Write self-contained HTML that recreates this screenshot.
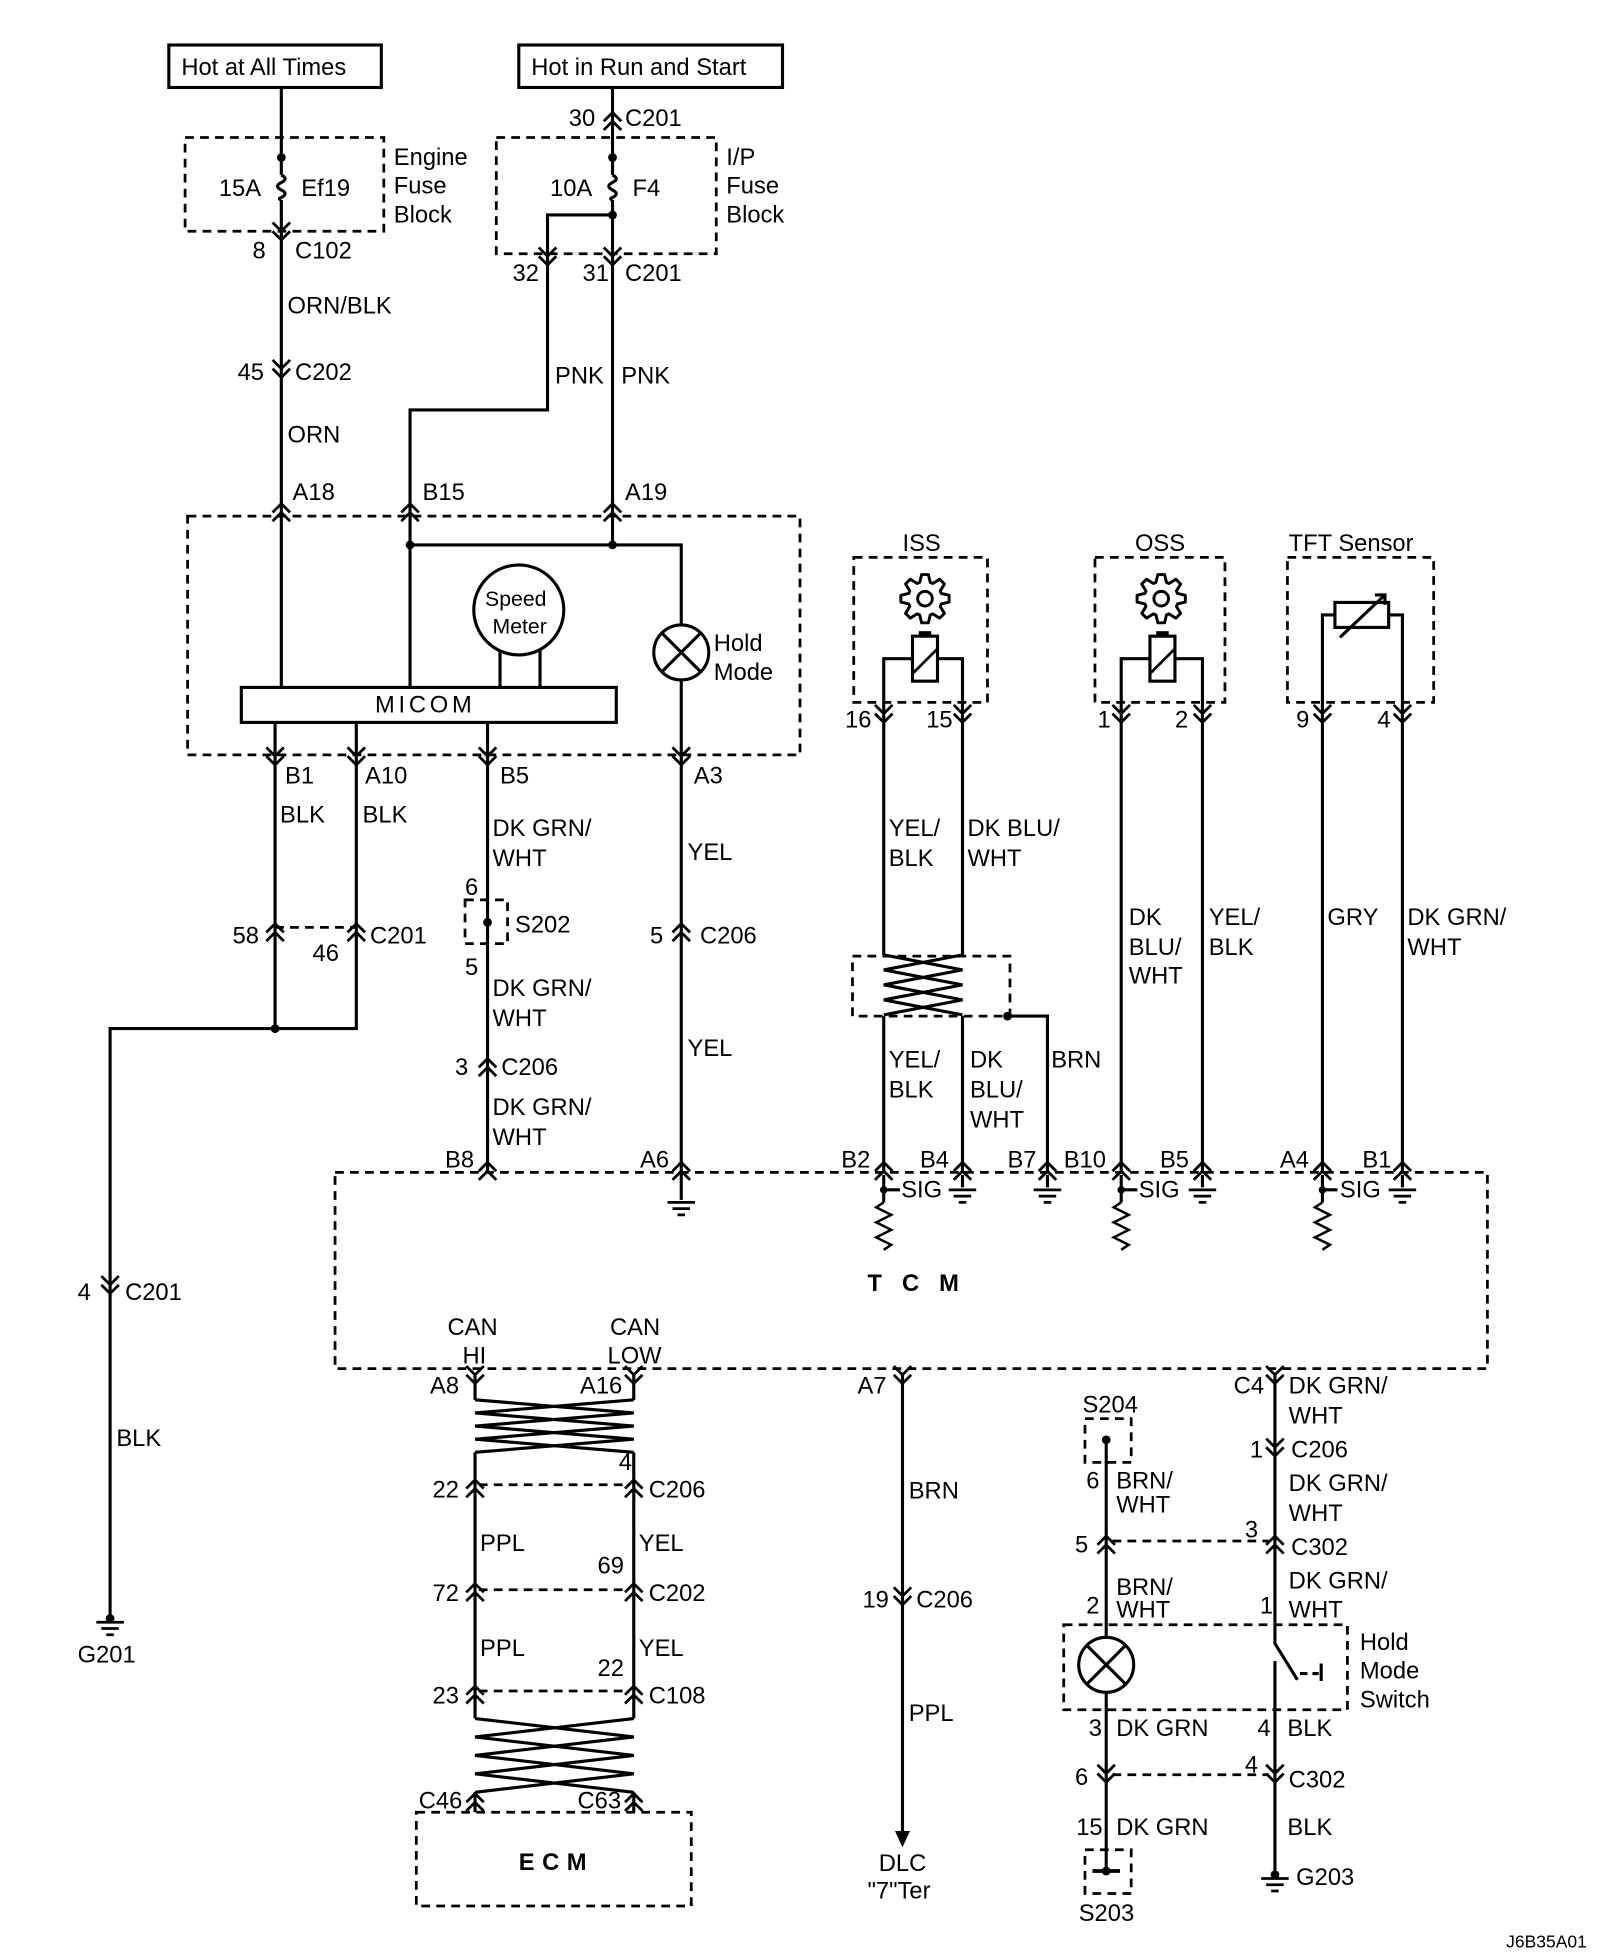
<!DOCTYPE html>
<html><head><meta charset="utf-8"><style>
html,body{margin:0;padding:0;background:#fff}
svg{display:block}
text{font-family:"Liberation Sans",Arial,sans-serif;font-size:19px;fill:#000}
</style></head><body>
<svg width="1600" height="1956" viewBox="0 0 1280 1565" xmlns="http://www.w3.org/2000/svg">
<defs>
<g id="up"><path d="M-7,5 L0,-2 L7,5 M-7,12 L0,5 L7,12" fill="none" stroke="#000" stroke-width="2.2"/></g>
<g id="dn"><path d="M-7,-5 L0,2 L7,-5 M-7,-12 L0,-5 L7,-12" fill="none" stroke="#000" stroke-width="2.2"/></g>
<g id="gnd"><path d="M-11,0 H11 M-7,5 H7 M-3,10 H3" stroke="#000" stroke-width="2.2"/></g>
<g id="res"><path d="M0,0 L-6,4 L6,10 L-6,16 L6,22 L-6,28 L6,34 L0,38" fill="none" stroke="#000" stroke-width="2"/></g>
<g id="lamp"><circle r="22" fill="#fff" stroke="#000" stroke-width="2.5"/><path d="M-15.5,-15.5 L15.5,15.5 M15.5,-15.5 L-15.5,15.5" stroke="#000" stroke-width="2.5"/></g>
<g id="gear"><polygon fill="none" stroke="#000" stroke-width="1.8" stroke-linejoin="round" points="9.99,-3.24 14.85,-2.09 14.85,2.09 9.99,3.24 9.36,4.77 11.98,9.03 9.03,11.98 4.77,9.36 3.24,9.99 2.09,14.85 -2.09,14.85 -3.24,9.99 -4.77,9.36 -9.03,11.98 -11.98,9.03 -9.36,4.77 -9.99,3.24 -14.85,2.09 -14.85,-2.09 -9.99,-3.24 -9.36,-4.77 -11.98,-9.03 -9.03,-11.98 -4.77,-9.36 -3.24,-9.99 -2.09,-14.85 2.09,-14.85 3.24,-9.99 4.77,-9.36 9.03,-11.98 11.98,-9.03 9.36,-4.77"/><circle r="4.5" fill="none" stroke="#000" stroke-width="1.8"/></g>
<g id="coil"><rect x="-10" y="0" width="20" height="36" fill="#fff" stroke="#000" stroke-width="2.5"/><rect x="-5" y="-4" width="10" height="4" fill="#000"/><path d="M-10,30 L10,10" stroke="#000" stroke-width="2.2"/></g>
</defs>
<g stroke="#000" stroke-width="2.5" fill="none">
<rect x="135" y="36" width="170" height="34"/>
<rect x="415" y="36" width="211" height="34"/>
<rect x="193" y="550" width="300" height="28"/>
</g>
<g stroke="#000" stroke-width="2.2" fill="none" stroke-dasharray="7 5">
<rect x="148" y="110" width="159" height="75"/>
<rect x="397" y="110" width="176" height="93"/>
<rect x="150" y="413" width="490" height="191"/>
<rect x="683" y="446" width="107" height="116"/>
<rect x="876" y="446" width="104" height="116"/>
<rect x="1030" y="446" width="117" height="116"/>
<rect x="682" y="765" width="126" height="48"/>
<rect x="372" y="720" width="34" height="35"/>
<rect x="268" y="938" width="922" height="157"/>
<rect x="333" y="1450" width="220" height="75"/>
<rect x="868" y="1135" width="37" height="35"/>
<rect x="868" y="1480" width="37" height="35"/>
<rect x="851" y="1300" width="227" height="68"/>
<path d="M220,742 H285 M383,1188 H503 M383,1272 H503 M383,1353 H503 M890,1233 H1015 M890,1420 H1015"/>
</g>
<g stroke="#000" stroke-width="2.5" fill="none">
<path d="M225,70 V140 M225,160 V550"/>
<path d="M225,140 q6,3 0,6 q-6,3 0,6 q6,3 0,6 q-3,1 0,2"/>
<path d="M490,70 V140 M490,160 V436"/>
<path d="M490,140 q6,3 0,6 q-6,3 0,6 q6,3 0,6 q-3,1 0,2"/>
<path d="M490,172 H438 V328 H328 V550"/>
<path d="M328,436 H545 V500 M545,544 V604"/>
<path d="M400,518 V550 M432,518 V550"/>
<path d="M220,578 V823 M285,578 V823 H88 V1295"/>
<path d="M390,578 V937 M545,604 V960"/>
<path d="M707,562 V764 M770,562 V764 M707,813 V937 M770,813 V937 M806,813 H838 V937"/>
<path d="M707,562 V527 H730 M770,562 V527 H750"/>
<path d="M707,764 L770,776 L707,788 L770,800 L707,812 M770,764 L707,776 L770,788 L707,800 L770,812"/>
<path d="M897,562 V937 M962,562 V937 M897,562 V527 H920 M962,562 V527 H940"/>
<path d="M1058,562 V937 M1122,562 V937 M1058,562 V492 H1068 M1122,562 V492 H1111"/>
<rect x="1068" y="482" width="43" height="20"/><path d="M1072,510 L1108,476 M1100,476 H1108 V484"/>
<path d="M707,940 V962 M897,940 V962 M1058,940 V962 M707,952 H720 M897,952 H910 M1058,952 H1070"/>
<path d="M770,940 V950 M838,940 V950 M962,940 V950 M1122,940 V950"/>
<path d="M380,1100 V1120 M507,1100 V1120 M380,1162 V1375 M507,1162 V1375 M380,1434 V1450 M507,1434 V1450"/>
<path d="M380,1120 L507,1130.5 L380,1141 L507,1151.5 L380,1162 M507,1120 L380,1130.5 L507,1141 L380,1151.5 L507,1162"/>
<path d="M380,1375 L507,1389.75 L380,1404.5 L507,1419.25 L380,1434 M507,1375 L380,1389.75 L507,1404.5 L380,1419.25 L507,1434"/>
<path d="M722,1100 V1470"/>
<path d="M1020,1100 V1315 L1038,1344 M1020,1329 V1500 M1040,1339 H1046 M1050,1339 H1055 M1057,1331 V1345"/>
<path d="M885,1152 V1310 M885,1354 V1497"/>
</g>
<path d="M716,1465 L722,1478 L728,1465 Z" fill="#000"/>
<g fill="#000">
<circle cx="225" cy="126" r="3.5"/><circle cx="490" cy="126" r="3.5"/><circle cx="490" cy="172" r="3.5"/>
<circle cx="328" cy="436" r="3.5"/><circle cx="490" cy="436" r="3.5"/><circle cx="220" cy="823" r="3.5"/>
<circle cx="390" cy="738" r="3.5"/><circle cx="806" cy="813" r="3.5"/><circle cx="885" cy="1152" r="3.5"/>
<circle cx="885" cy="1497" r="3.5"/><circle cx="1020" cy="1500" r="3.5"/><circle cx="88" cy="1295" r="3.5"/>
<circle cx="707" cy="952" r="3"/><circle cx="897" cy="952" r="3"/><circle cx="1058" cy="952" r="3"/>
</g>
<path d="M874,1497 H896" stroke="#000" stroke-width="3"/>
<circle cx="415" cy="488" r="36" fill="#fff" stroke="#000" stroke-width="2.5"/>
<use href="#lamp" x="545" y="522"/>
<use href="#lamp" x="885" y="1332"/>
<g transform="translate(740,479) scale(1.3)"><use href="#gear"/></g>
<g transform="translate(929,479) scale(1.3)"><use href="#gear"/></g>
<use href="#coil" x="740" y="509"/><use href="#coil" x="930" y="509"/>
<use href="#gnd" x="88" y="1298"/><use href="#gnd" x="545" y="962"/><use href="#gnd" x="1020" y="1503"/>
<use href="#gnd" x="770" y="952"/><use href="#gnd" x="838" y="952"/><use href="#gnd" x="962" y="952"/><use href="#gnd" x="1122" y="952"/>
<use href="#res" x="707" y="962"/><use href="#res" x="897" y="962"/><use href="#res" x="1058" y="962"/>
<use href="#dn" x="225" y="190"/><use href="#dn" x="225" y="300"/>
<use href="#up" x="490" y="92"/><use href="#dn" x="438" y="210"/><use href="#dn" x="490" y="210"/>
<use href="#up" x="225" y="405"/><use href="#up" x="328" y="405"/><use href="#up" x="490" y="405"/>
<use href="#dn" x="220" y="610"/><use href="#dn" x="285" y="610"/><use href="#dn" x="390" y="610"/><use href="#dn" x="545" y="610"/>
<use href="#up" x="220" y="741"/><use href="#up" x="285" y="741"/><use href="#up" x="545" y="741"/><use href="#up" x="390" y="849"/>
<use href="#dn" x="707" y="576"/><use href="#dn" x="770" y="576"/><use href="#dn" x="897" y="576"/><use href="#dn" x="962" y="576"/><use href="#dn" x="1058" y="576"/><use href="#dn" x="1122" y="576"/>
<use href="#up" x="390" y="932"/><use href="#up" x="545" y="932"/><use href="#up" x="707" y="932"/><use href="#up" x="770" y="932"/><use href="#up" x="838" y="932"/><use href="#up" x="897" y="932"/><use href="#up" x="962" y="932"/><use href="#up" x="1058" y="932"/><use href="#up" x="1122" y="932"/>
<use href="#dn" x="88" y="1033"/>
<use href="#dn" x="380" y="1105"/><use href="#dn" x="507" y="1105"/><use href="#dn" x="722" y="1105"/><use href="#dn" x="1020" y="1105"/>
<use href="#up" x="380" y="1186"/><use href="#up" x="507" y="1186"/><use href="#up" x="380" y="1269"/><use href="#up" x="507" y="1269"/><use href="#up" x="380" y="1351"/><use href="#up" x="507" y="1351"/>
<use href="#up" x="380" y="1437"/><use href="#up" x="507" y="1437"/>
<use href="#dn" x="722" y="1282"/><use href="#dn" x="1020" y="1163"/><use href="#up" x="1020" y="1231"/><use href="#up" x="885" y="1231"/>
<use href="#dn" x="885" y="1424"/><use href="#dn" x="1020" y="1424"/>
<text x="145" y="60">Hot at All Times</text>
<text x="425" y="60">Hot in Run and Start</text>
<text x="175" y="157">15A</text><text x="241" y="157">Ef19</text>
<text x="315" y="132">Engine</text><text x="315" y="155">Fuse</text><text x="315" y="178">Block</text>
<text x="455" y="101">30</text><text x="500" y="101">C201</text>
<text x="440" y="157">10A</text><text x="506" y="157">F4</text>
<text x="581" y="132">I/P</text><text x="581" y="155">Fuse</text><text x="581" y="178">Block</text>
<text x="202" y="207">8</text><text x="236" y="207">C102</text>
<text x="410" y="225">32</text><text x="466" y="225">31</text><text x="500" y="225">C201</text>
<text x="230" y="251">ORN/BLK</text>
<text x="190" y="304">45</text><text x="236" y="304">C202</text>
<text x="444" y="307">PNK</text><text x="497" y="307">PNK</text>
<text x="230" y="354">ORN</text>
<text x="234" y="400">A18</text><text x="338" y="400">B15</text><text x="500" y="400">A19</text>
<text x="388" y="485" style="font-size:17px">Speed</text><text x="394" y="507" style="font-size:17px">Meter</text>
<text x="571" y="521">Hold</text><text x="571" y="544">Mode</text>
<text x="300" y="570" letter-spacing="3">MICOM</text>
<text x="228" y="627">B1</text><text x="292" y="627">A10</text><text x="400" y="627">B5</text><text x="555" y="627">A3</text>
<text x="224" y="658">BLK</text><text x="290" y="658">BLK</text>
<text x="394" y="669">DK GRN/</text><text x="394" y="693">WHT</text>
<text x="550" y="688">YEL</text>
<text x="372" y="716">6</text><text x="412" y="746">S202</text><text x="372" y="780">5</text>
<text x="186" y="755">58</text><text x="250" y="769">46</text><text x="296" y="755">C201</text>
<text x="520" y="755">5</text><text x="560" y="755">C206</text>
<text x="394" y="797">DK GRN/</text><text x="394" y="821">WHT</text>
<text x="550" y="845">YEL</text>
<text x="364" y="860">3</text><text x="401" y="860">C206</text>
<text x="394" y="892">DK GRN/</text><text x="394" y="916">WHT</text>
<text x="722" y="441">ISS</text><text x="908" y="441">OSS</text><text x="1031" y="441">TFT Sensor</text>
<text x="676" y="582">16</text><text x="741" y="582">15</text><text x="878" y="582">1</text><text x="940" y="582">2</text><text x="1037" y="582">9</text><text x="1102" y="582">4</text>
<text x="711" y="669">YEL/</text><text x="711" y="693">BLK</text>
<text x="774" y="669">DK BLU/</text><text x="774" y="693">WHT</text>
<text x="903" y="740">DK</text><text x="903" y="764">BLU/</text><text x="903" y="787">WHT</text>
<text x="967" y="740">YEL/</text><text x="967" y="764">BLK</text>
<text x="1062" y="740">GRY</text><text x="1126" y="740">DK GRN/</text><text x="1126" y="764">WHT</text>
<text x="711" y="854">YEL/</text><text x="711" y="878">BLK</text>
<text x="776" y="854">DK</text><text x="776" y="878">BLU/</text><text x="776" y="902">WHT</text>
<text x="841" y="854">BRN</text>
<text x="356" y="934">B8</text><text x="512" y="934">A6</text><text x="673" y="934">B2</text><text x="736" y="934">B4</text><text x="806" y="934">B7</text><text x="851" y="934">B10</text><text x="928" y="934">B5</text><text x="1024" y="934">A4</text><text x="1090" y="934">B1</text>
<text x="721" y="958">SIG</text><text x="911" y="958">SIG</text><text x="1072" y="958">SIG</text>
<text x="694" y="1033" font-weight="bold" letter-spacing="16">TCM</text>
<text x="358" y="1068">CAN</text><text x="370" y="1091">HI</text><text x="488" y="1068">CAN</text><text x="486" y="1091">LOW</text>
<text x="62" y="1040">4</text><text x="100" y="1040">C201</text><text x="93" y="1157">BLK</text>
<text x="62" y="1330">G201</text>
<text x="344" y="1115">A8</text><text x="464" y="1115">A16</text><text x="686" y="1115">A7</text><text x="987" y="1115">C4</text>
<text x="1031" y="1115">DK GRN/</text><text x="1031" y="1139">WHT</text>
<text x="866" y="1130">S204</text>
<text x="495" y="1176">4</text><text x="346" y="1198">22</text><text x="519" y="1198">C206</text>
<text x="1000" y="1166">1</text><text x="1033" y="1166">C206</text>
<text x="869" y="1191">6</text><text x="893" y="1191">BRN/</text><text x="893" y="1210">WHT</text>
<text x="1031" y="1193">DK GRN/</text><text x="1031" y="1217">WHT</text>
<text x="727" y="1199">BRN</text>
<text x="384" y="1241">PPL</text><text x="511" y="1241">YEL</text>
<text x="860" y="1242">5</text><text x="996" y="1230">3</text><text x="1033" y="1244">C302</text>
<text x="478" y="1259">69</text>
<text x="869" y="1291">2</text><text x="893" y="1276">BRN/</text><text x="893" y="1294">WHT</text>
<text x="1008" y="1291">1</text><text x="1031" y="1271">DK GRN/</text><text x="1031" y="1294">WHT</text>
<text x="346" y="1281">72</text><text x="519" y="1281">C202</text>
<text x="690" y="1286">19</text><text x="733" y="1286">C206</text>
<text x="384" y="1325">PPL</text><text x="511" y="1325">YEL</text>
<text x="1088" y="1320">Hold</text><text x="1088" y="1343">Mode</text><text x="1088" y="1366">Switch</text>
<text x="478" y="1341">22</text>
<text x="346" y="1363">23</text><text x="519" y="1363">C108</text>
<text x="727" y="1377">PPL</text>
<text x="871" y="1389">3</text><text x="893" y="1389">DK GRN</text>
<text x="1006" y="1389">4</text><text x="1030" y="1389">BLK</text>
<text x="860" y="1428">6</text><text x="996" y="1418">4</text><text x="1031" y="1430">C302</text>
<text x="335" y="1447">C46</text><text x="462" y="1447">C63</text>
<text x="861" y="1468">15</text><text x="893" y="1468">DK GRN</text><text x="1030" y="1468">BLK</text>
<text x="415" y="1496" font-weight="bold" letter-spacing="6">ECM</text>
<text x="703" y="1497">DLC</text><text x="694" y="1519">"7"Ter</text>
<text x="1037" y="1508">G203</text>
<text x="863" y="1537">S203</text>
<text x="1205" y="1558" style="font-size:14px">J6B35A01</text>
</svg>
</body></html>
